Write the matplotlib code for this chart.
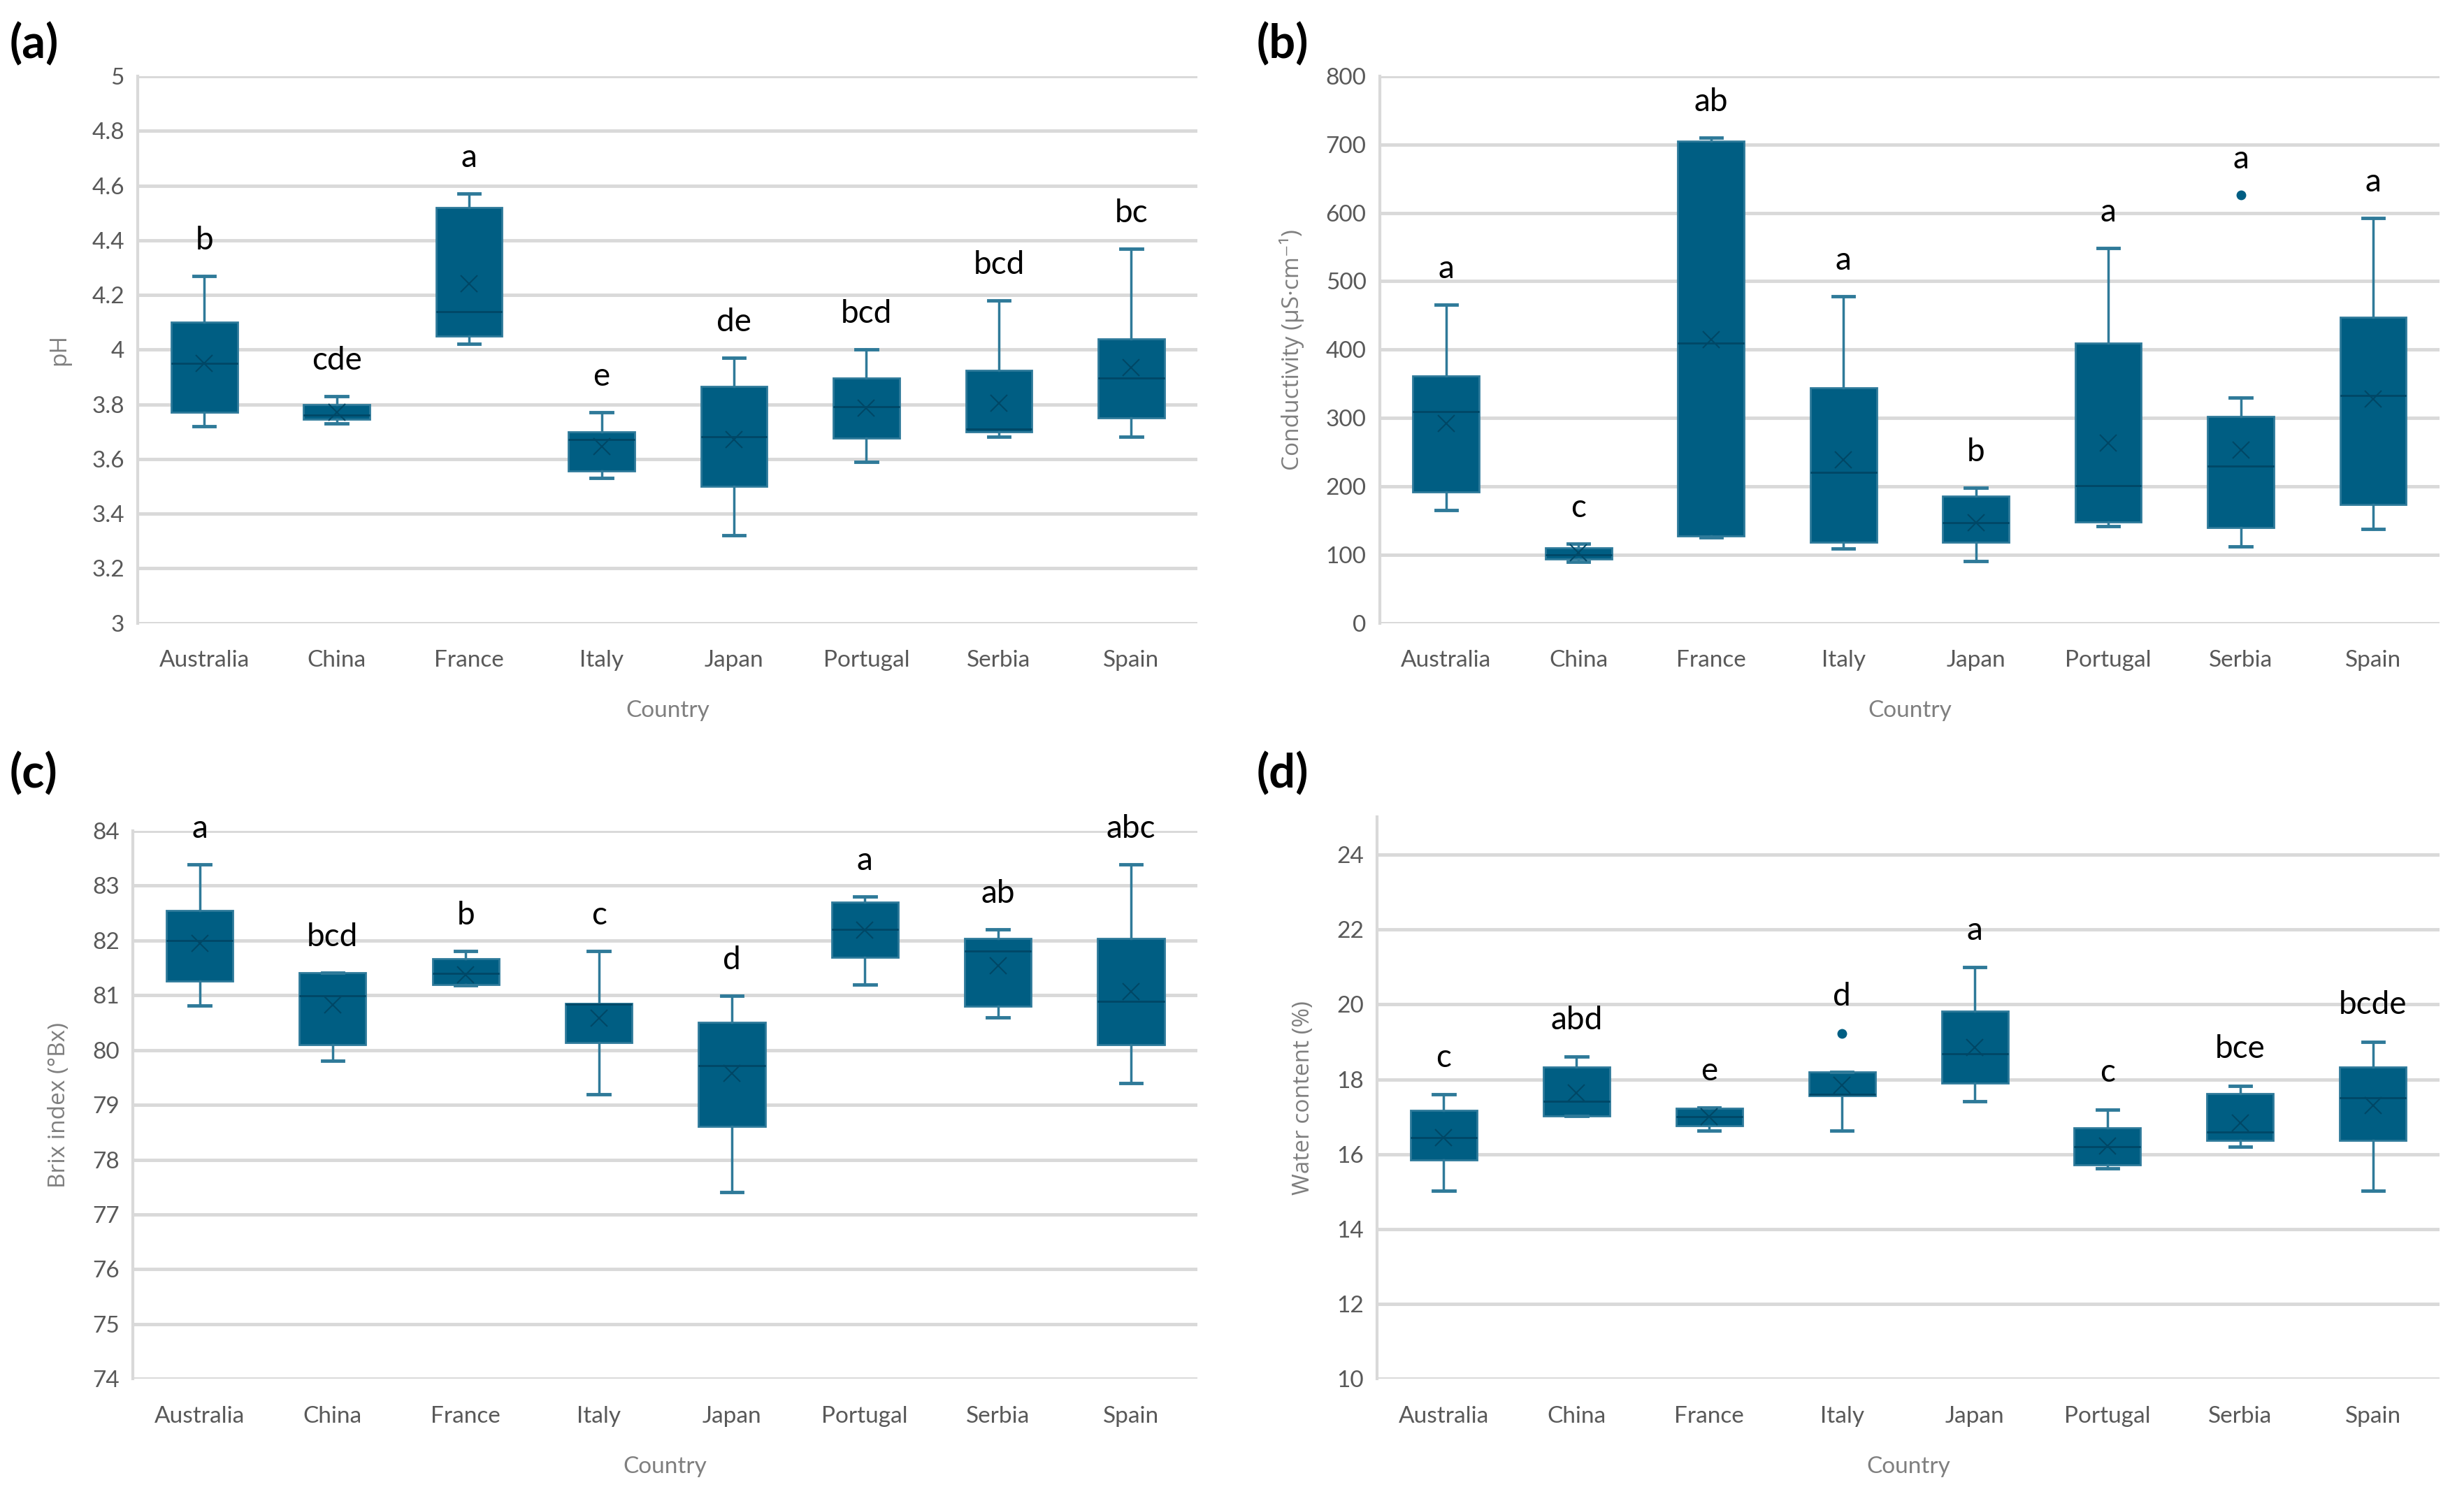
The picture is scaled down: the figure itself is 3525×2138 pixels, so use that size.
import matplotlib
matplotlib.use('Agg')
import matplotlib.pyplot as plt
from matplotlib.ticker import FuncFormatter

countries = ['Australia', 'China', 'France', 'Italy', 'Japan', 'Portugal', 'Serbia', 'Spain']

# (a) pH
ph_lo   = [3.72, 3.73, 4.02, 3.53, 3.32, 3.59, 3.68, 3.68]
ph_q1   = [3.77, 3.745, 4.05, 3.555, 3.50, 3.675, 3.70, 3.75]
ph_med  = [3.95, 3.76, 4.14, 3.67, 3.68, 3.79, 3.71, 3.895]
ph_q3   = [4.10, 3.80, 4.52, 3.70, 3.865, 3.895, 3.925, 4.04]
ph_hi   = [4.27, 3.83, 4.57, 3.77, 3.97, 4.00, 4.18, 4.37]
ph_mean = [3.95, 3.77, 4.24, 3.645, 3.67, 3.785, 3.805, 3.935]
ph_fl   = [[], [], [], [], [], [], [], []]
ph_let  = ['b', 'cde', 'a', 'e', 'de', 'bcd', 'bcd', 'bc']

# (b) conductivity
ec_lo   = [165, 90, 125, 109, 91, 142, 112, 138]
ec_q1   = [192, 94, 127, 118, 118, 148, 140, 173]
ec_med  = [309, 100, 410, 220, 147, 201, 230, 333]
ec_q3   = [361, 110, 705, 344, 186, 410, 302, 447]
ec_hi   = [466, 116, 710, 478, 198, 549, 330, 593]
ec_mean = [292, 103, 415, 239, 147, 263, 253, 328]
ec_fl   = [[], [], [], [], [], [], [626], []]
ec_let  = ['a', 'c', 'ab', 'a', 'b', 'a', 'a', 'a']

# (c) Brix
bx_lo   = [80.81, 79.80, 81.18, 79.19, 77.41, 81.19, 80.60, 79.40]
bx_q1   = [81.26, 80.10, 81.19, 80.14, 78.61, 81.69, 80.80, 80.10]
bx_med  = [82.00, 80.99, 81.40, 80.84, 79.71, 82.20, 81.80, 80.89]
bx_q3   = [82.55, 81.41, 81.67, 80.85, 80.50, 82.70, 82.04, 82.04]
bx_hi   = [83.39, 81.41, 81.80, 81.80, 80.99, 82.80, 82.20, 83.39]
bx_mean = [81.94, 80.82, 81.37, 80.58, 79.57, 82.19, 81.54, 81.06]
bx_fl   = [[], [], [], [], [], [], [], []]
bx_let  = ['a', 'bcd', 'b', 'c', 'd', 'a', 'ab', 'abc']

# (d) water content
wc_lo   = [15.03, 17.03, 16.63, 16.63, 17.42, 15.63, 16.20, 15.03]
wc_q1   = [15.85, 17.03, 16.76, 17.56, 17.90, 15.72, 16.37, 16.37]
wc_med  = [16.44, 17.41, 17.00, 17.60, 18.69, 16.20, 16.60, 17.51]
wc_q3   = [17.18, 18.33, 17.22, 18.20, 19.83, 16.71, 17.62, 18.33]
wc_hi   = [17.60, 18.60, 17.25, 18.20, 21.00, 17.20, 17.83, 19.01]
wc_mean = [16.44, 17.63, 17.01, 17.85, 18.85, 16.22, 16.83, 17.31]
wc_fl   = [[], [], [], [19.23], [], [], [], []]
wc_let  = ['c', 'abd', 'e', 'd', 'a', 'c', 'bce', 'bcde']

BOX = '#005E83'
EDGE = '#2E7A9A'
DARK = '#004766'
WHISK = '#2F7A99'
GRID = '#D9D9D9'
TICK = '#595959'
LAB = '#7F7F7F'
TXT_FONT = ['Lato', 'DejaVu Sans']
YLAB_FONT = ['Open Sans', 'DejaVu Sans']

fig = plt.figure(figsize=(35.25, 21.38), dpi=100)


def panel(rect, lo, q1, med, q3, hi, mean, fl, letters, ylim, step, ytop, ylabel, tag, tagpos):
    ax = fig.add_axes(rect)
    stats = [dict(whislo=lo[i], q1=q1[i], med=med[i], q3=q3[i], whishi=hi[i],
                  mean=mean[i], fliers=fl[i], label=countries[i]) for i in range(len(countries))]
    pos = list(range(1, len(countries) + 1))
    ax.bxp(stats, positions=pos, widths=0.5, patch_artist=True, showmeans=True, capwidths=0.16,
           boxprops=dict(facecolor=BOX, edgecolor=EDGE, linewidth=2),
           medianprops=dict(color=DARK, linewidth=2),
           whiskerprops=dict(color=WHISK, linewidth=2.5),
           capprops=dict(color=WHISK, linewidth=3.5),
           meanprops=dict(marker='x', markeredgecolor=DARK, markersize=17, markeredgewidth=1.5),
           flierprops=dict(marker='o', markerfacecolor=BOX, markeredgecolor=BOX, markersize=9))
    rng = ylim[1] - ylim[0]
    for i, t in enumerate(letters):
        top = max([hi[i]] + fl[i])
        ax.text(pos[i], top + 0.065 * rng, t, ha='center', va='center', fontsize=33,
                color='black', family=TXT_FONT)
    ax.set_xlim(0.5, len(countries) + 0.5)
    ax.set_ylim(*ylim)
    ticks = []
    v = ylim[0]
    while v <= ytop + 1e-9:
        ticks.append(round(v, 6))
        v += step
    ax.set_yticks(ticks)
    ax.yaxis.set_major_formatter(FuncFormatter(lambda x, p: '%g' % x))
    ax.grid(axis='y', color=GRID, linewidth=3.5)
    ax.set_axisbelow(True)
    for s in ['top', 'right', 'bottom']:
        ax.spines[s].set_visible(False)
    ax.spines['left'].set_color(GRID)
    ax.spines['left'].set_linewidth(3)
    ax.tick_params(axis='both', length=0, labelsize=24, labelcolor=TICK)
    ax.tick_params(axis='x', pad=28)
    ax.tick_params(axis='y', pad=14)
    for lb in ax.get_xticklabels() + ax.get_yticklabels():
        lb.set_family(TXT_FONT)
    ax.set_xlabel('Country', fontsize=24, color=LAB, labelpad=30, family=TXT_FONT)
    ax.set_ylabel(ylabel, fontsize=24, color=LAB, labelpad=22, family=YLAB_FONT)
    fig.text(tagpos[0], tagpos[1], tag, fontsize=48, fontweight='bold', family=TXT_FONT,
             ha='left', va='center')
    return ax


panel([0.056, 0.583, 0.430, 0.366], ph_lo, ph_q1, ph_med, ph_q3, ph_hi, ph_mean, ph_fl, ph_let,
      (3, 5), 0.2, 5, 'pH', '(a)', (0.004, 0.970))
panel([0.560, 0.583, 0.430, 0.366], ec_lo, ec_q1, ec_med, ec_q3, ec_hi, ec_mean, ec_fl, ec_let,
      (0, 800), 100, 800, 'Conductivity (µS·cm⁻¹)', '(b)', (0.510, 0.970))
panel([0.054, 0.077, 0.432, 0.367], bx_lo, bx_q1, bx_med, bx_q3, bx_hi, bx_mean, bx_fl, bx_let,
      (74, 84), 1, 84, 'Brix index (°Bx)', '(c)', (0.004, 0.482))
panel([0.559, 0.077, 0.431, 0.376], wc_lo, wc_q1, wc_med, wc_q3, wc_hi, wc_mean, wc_fl, wc_let,
      (10, 25), 2, 24, 'Water content (%)', '(d)', (0.510, 0.482))

fig.savefig('out.png', dpi=100)
